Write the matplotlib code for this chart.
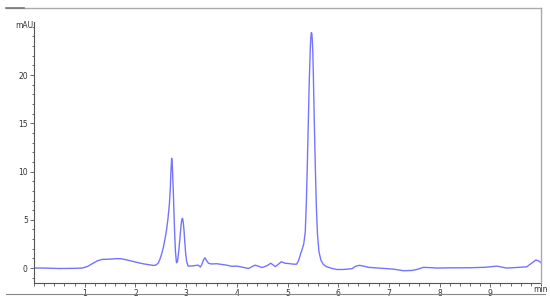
import matplotlib
matplotlib.use("Agg")
import matplotlib.pyplot as plt
from matplotlib.lines import Line2D
from matplotlib.ticker import MultipleLocator

# Retention time (min) and absorbance (mAU)
time_min = [
    0.00, 0.20, 0.50, 0.80, 0.95, 1.05, 1.15, 1.25, 1.35, 1.50, 1.60, 1.70, 1.80, 1.90,
    2.00, 2.10, 2.20, 2.30, 2.36, 2.40, 2.45, 2.49, 2.52, 2.55, 2.58, 2.61, 2.64, 2.67,
    2.69, 2.70, 2.71, 2.715, 2.72, 2.73, 2.74, 2.75, 2.77, 2.79, 2.81, 2.83, 2.86, 2.88,
    2.90, 2.915, 2.93, 2.945, 2.96, 2.97, 2.99, 3.01, 3.04, 3.12, 3.20, 3.24, 3.28, 3.31,
    3.34, 3.37, 3.40, 3.44, 3.50, 3.60, 3.70, 3.80, 3.90, 4.00, 4.10, 4.23, 4.30, 4.36,
    4.42, 4.50, 4.60, 4.67, 4.72, 4.76, 4.82, 4.88, 4.95, 5.05, 5.12, 5.18, 5.22, 5.26,
    5.29, 5.32, 5.35, 5.37, 5.39, 5.41, 5.43, 5.45, 5.46, 5.47, 5.48, 5.49, 5.50, 5.51,
    5.53, 5.55, 5.57, 5.59, 5.62, 5.66, 5.71, 5.77, 5.85, 5.97, 6.10, 6.27, 6.35, 6.42,
    6.50, 6.60, 6.80, 6.96, 7.10, 7.29, 7.45, 7.55, 7.68, 7.80, 7.94, 8.20, 8.60, 8.90,
    9.13, 9.32, 9.50, 9.72, 9.80, 9.90, 9.95, 10.00,
]
signal_mau = [
    0.00, 0.00, -0.05, -0.03, 0.00, 0.15, 0.45, 0.75, 0.90, 0.92, 0.97, 0.97, 0.88, 0.75,
    0.62, 0.50, 0.40, 0.32, 0.27, 0.30, 0.50, 1.00, 1.50, 2.10, 2.90, 3.80, 5.00, 6.60,
    8.40, 9.90, 10.90, 11.37, 11.25, 10.40, 9.00, 7.60, 4.20, 1.70, 0.55, 0.65, 2.00, 3.20,
    4.40, 5.05, 5.15, 4.70, 3.80, 3.00, 1.60, 0.70, 0.20, 0.22, 0.28, 0.30, 0.10, 0.35,
    0.80, 1.07, 0.80, 0.50, 0.42, 0.45, 0.38, 0.30, 0.18, 0.20, 0.10, -0.05, 0.15, 0.30,
    0.20, 0.05, 0.25, 0.50, 0.30, 0.15, 0.40, 0.65, 0.50, 0.45, 0.40, 0.40, 0.80, 1.50,
    1.95, 2.50, 3.70, 6.50, 10.50, 15.00, 19.50, 22.80, 23.90, 24.40, 24.30, 23.60, 22.20, 20.00,
    14.80, 10.20, 6.20, 3.60, 1.70, 0.80, 0.35, 0.15, 0.00, -0.15, -0.15, -0.07, 0.20, 0.28,
    0.20, 0.07, 0.00, -0.07, -0.12, -0.28, -0.25, -0.15, 0.07, 0.05, 0.00, 0.02, 0.03, 0.08,
    0.20, 0.00, 0.05, 0.13, 0.45, 0.83, 0.75, 0.55,
]
y_ticks = [0, 5, 10, 15, 20]
x_ticks = [1, 2, 3, 4, 5, 6, 7, 8, 9]

W, H = 550, 301
fig = plt.figure(figsize=(5.5, 3.01), dpi=100)
ax = fig.add_axes([34 / W, (H - 283) / H, (541 - 34) / W, (283 - 22) / H])

ax.plot(time_min, signal_mau, color="#7474ff", lw=1.0, solid_joinstyle="round")
ax.set_xlim(0, 10)
ax.set_ylim(-1.55, 25.5)

axis_col = "#555555"
for s in ["top", "right"]:
    ax.spines[s].set_visible(False)
for s in ["left", "bottom"]:
    ax.spines[s].set_color(axis_col)
    ax.spines[s].set_linewidth(0.8)

ax.set_xticks(x_ticks)
ax.set_yticks(y_ticks)
ax.xaxis.set_minor_locator(MultipleLocator(0.2))
ax.yaxis.set_minor_locator(MultipleLocator(1))
ax.tick_params(which="major", length=3, width=0.6, color=axis_col, labelsize=5.5,
               labelcolor="#333333", pad=1.5)
ax.tick_params(which="minor", length=1.8, width=0.6, color=axis_col)

fig.text(33 / W, 1 - 25 / H, "mAU", fontsize=5.5, color="#333333", ha="right", va="center")
fig.text(548 / W, 1 - 290 / H, "min", fontsize=5.5, color="#333333", ha="right", va="center")

frame_col = "#aaaaaa"
fig.add_artist(Line2D([6 / W, 541 / W], [1 - 8 / H, 1 - 8 / H], color=frame_col, lw=1.0))
fig.add_artist(Line2D([6 / W, 24 / W], [1 - 8 / H, 1 - 8 / H], color="#777777", lw=1.2))
fig.add_artist(Line2D([541 / W, 541 / W], [1 - 8 / H, 1 - 283 / H], color=frame_col, lw=1.0))
fig.add_artist(Line2D([6 / W, 545 / W], [1 - 294 / H, 1 - 294 / H], color="#888888", lw=0.8))

fig.savefig("out.png", dpi=100)
